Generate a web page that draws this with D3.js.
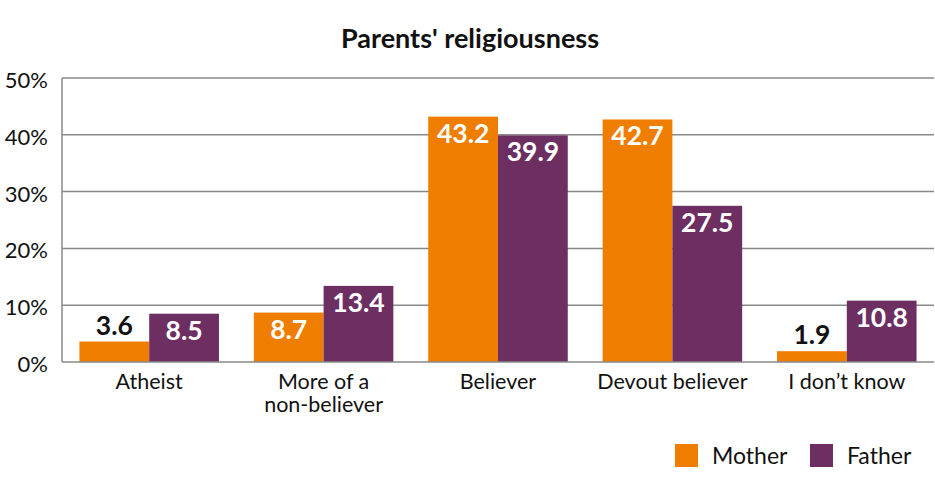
<!DOCTYPE html>
<html>
<head>
<meta charset="utf-8">
<script src="https://cdn.jsdelivr.net/npm/d3@7"></script>
<style>
  body { margin: 0; background: #fff; }
  svg { display: block; font-family: Lato, sans-serif; }
</style>
</head>
<body>
<svg id="chart" width="935" height="485"></svg>
<script>
// Data
const categories = [["Atheist"], ["More of a", "non-believer"], ["Believer"], ["Devout believer"], ["I don’t know"]];
const mother = [3.6, 8.7, 43.2, 42.7, 1.9];
const father = [8.5, 13.4, 39.9, 27.5, 10.8];
const seriesNames = ["Mother", "Father"];
const seriesColors = ["#EF7D00", "#6D2F62"];
const yTicks = [0, 10, 20, 30, 40, 50];

const svg = d3.select("#chart");
const margin = { top: 78, right: 1, bottom: 123, left: 62 };
const width = 935, height = 485;

const x = d3.scaleBand()
    .domain(d3.range(categories.length))
    .range([margin.left, width - margin.right])
    .paddingInner(0.2)
    .paddingOuter(0.1);

const xs = d3.scaleBand()
    .domain(d3.range(seriesNames.length))
    .range([0, x.bandwidth()]);

const y = d3.scaleLinear()
    .domain([0, 50])
    .range([height - margin.bottom, margin.top]);

// title
svg.append("text")
    .attr("x", 470)
    .attr("y", 48)
    .attr("text-anchor", "middle")
    .style("font-size", "27px")
    .style("font-weight", "bold")
    .attr("fill", "#111")
    .text("Parents' religiousness");

// gridlines
svg.append("g").selectAll("line")
    .data(yTicks.filter(d => d > 0))
    .join("line")
    .attr("x1", margin.left)
    .attr("x2", width - margin.right)
    .attr("y1", d => y(d))
    .attr("y2", d => y(d))
    .attr("stroke", "#898989")
    .attr("stroke-width", 1.5);

// y tick labels
svg.append("g").selectAll("text")
    .data(yTicks)
    .join("text")
    .attr("x", 48)
    .attr("y", d => y(d) + 10)
    .attr("text-anchor", "end")
    .style("font-size", "22px")
    .attr("fill", "#111")
    .text(d => d + "%");

// bars
const series = [mother, father];
const groups = svg.append("g").selectAll("g")
    .data(series)
    .join("g");

groups.each(function (vals, si) {
    const g = d3.select(this);
    g.selectAll("rect")
        .data(vals)
        .join("rect")
        .attr("x", (d, i) => x(i) + xs(si))
        .attr("y", d => y(d))
        .attr("width", xs.bandwidth())
        .attr("height", d => y(0) - y(d))
        .attr("fill", seriesColors[si]);

    g.selectAll("text")
        .data(vals)
        .join("text")
        .attr("x", (d, i) => x(i) + xs(si) + xs.bandwidth() / 2)
        .attr("y", d => (y(0) - y(d) > 30 ? y(d) + 26 : y(d) - 7))
        .attr("text-anchor", "middle")
        .style("font-size", "26.5px")
        .style("font-weight", "bold")
        .attr("fill", d => (y(0) - y(d) > 30 ? "#fff" : "#111"))
        .text(d => d.toFixed(1));
});

// axes lines
svg.append("line")
    .attr("x1", margin.left).attr("x2", margin.left)
    .attr("y1", y(50)).attr("y2", y(0))
    .attr("stroke", "#898989").attr("stroke-width", 1.5);
svg.append("line")
    .attr("x1", margin.left).attr("x2", width - margin.right)
    .attr("y1", y(0)).attr("y2", y(0))
    .attr("stroke", "#898989").attr("stroke-width", 1.5);

// category labels
const cat = svg.append("g").selectAll("text")
    .data(categories)
    .join("text")
    .attr("x", (d, i) => x(i) + x.bandwidth() / 2)
    .attr("y", 389)
    .attr("text-anchor", "middle")
    .style("font-size", "21.5px")
    .attr("fill", "#111");
cat.selectAll("tspan")
    .data(d => d)
    .join("tspan")
    .attr("x", function () { return this.parentNode.getAttribute("x"); })
    .attr("dy", (d, i) => i === 0 ? 0 : 23)
    .text(d => d);

// legend
const legendX = [675, 810];
const legend = svg.append("g").selectAll("g")
    .data(seriesNames)
    .join("g")
    .attr("transform", (d, i) => `translate(${legendX[i]},444)`);
legend.append("rect")
    .attr("width", 23).attr("height", 23)
    .attr("fill", (d, i) => seriesColors[i]);
legend.append("text")
    .attr("x", 37).attr("y", 20)
    .style("font-size", "23px")
    .attr("fill", "#111")
    .text(d => d);
</script>
</body>
</html>
